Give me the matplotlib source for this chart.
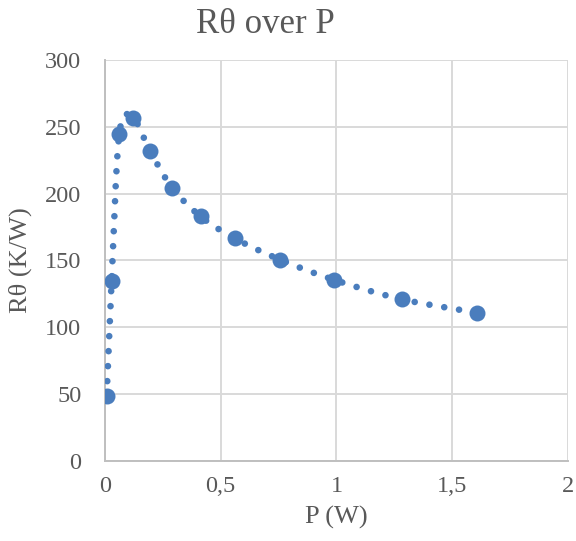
import matplotlib
matplotlib.use('Agg')
import matplotlib.pyplot as plt
import numpy as np

# data
p_w = [0.007, 0.029, 0.062, 0.12, 0.194, 0.29, 0.413, 0.561, 0.758, 0.99, 1.282, 1.607]
r_kw = [48.5, 135, 245, 257, 232, 204.5, 183, 166.5, 150.5, 135.5, 121, 111]

x_ticks = [0, 0.5, 1, 1.5, 2]
x_tick_labels = ['0', '0,5', '1', '1,5', '2']
y_ticks = [0, 50, 100, 150, 200, 250, 300]

blue = '#4a7dbd'
grey = '#595959'
plt.rcParams['font.family'] = ['Liberation Serif', 'DejaVu Serif']

fig = plt.figure(figsize=(5.76, 5.41), dpi=100)
ax = fig.add_axes([0.1823, 0.148, 0.8037, 0.741])
ax.set_xlim(0, 2)
ax.set_ylim(0, 300)


def smooth(xs, ys, n=40):
    # excel style smoothed line, done in screen space
    pts = ax.transData.transform(np.column_stack([xs, ys]))
    out = []
    for i in range(len(pts) - 1):
        p0 = pts[max(i - 1, 0)]
        p1 = pts[i]
        p2 = pts[i + 1]
        p3 = pts[min(i + 2, len(pts) - 1)]
        b1 = p1 + (p2 - p0) / 6
        b2 = p2 - (p3 - p1) / 6
        t = np.linspace(0, 1, n)[:, None]
        seg = (1 - t) ** 3 * p1 + 3 * (1 - t) ** 2 * t * b1 + 3 * (1 - t) * t ** 2 * b2 + t ** 3 * p2
        if i > 0:
            seg = seg[1:]
        out.append(seg)
    out = np.vstack(out)
    return ax.transData.inverted().transform(out)


curve = smooth(p_w, r_kw)
ax.plot(curve[:, 0], curve[:, 1], color=blue, lw=4.8, ls=(0, (0.001, 2.25)),
        dash_capstyle='round', zorder=3)
ax.plot(p_w, r_kw, 'o', color=blue, ms=11.5, mec='none', zorder=4)

ax.set_xticks(x_ticks)
ax.set_xticklabels(x_tick_labels)
ax.set_yticks(y_ticks)
ax.grid(True, color='#d9d9d9', lw=1.4)
ax.set_axisbelow(True)
for s in ['top', 'right']:
    ax.spines[s].set_visible(False)
for s in ['left', 'bottom']:
    ax.spines[s].set_color('#bfbfbf')
    ax.spines[s].set_linewidth(1.4)
ax.tick_params(length=0, labelsize=17.5, colors=grey)
ax.tick_params(axis='x', pad=11)
ax.tick_params(axis='y', pad=17)

ax.set_xlabel('P (W)', fontsize=19, color=grey, labelpad=6)
ax.set_ylabel('Rθ (K/W)', fontsize=19, color=grey, labelpad=9)
fig.text(0.46, 0.955, 'Rθ over P', fontsize=25, color=grey, ha='center', va='center')

fig.savefig('out.png', dpi=100)
